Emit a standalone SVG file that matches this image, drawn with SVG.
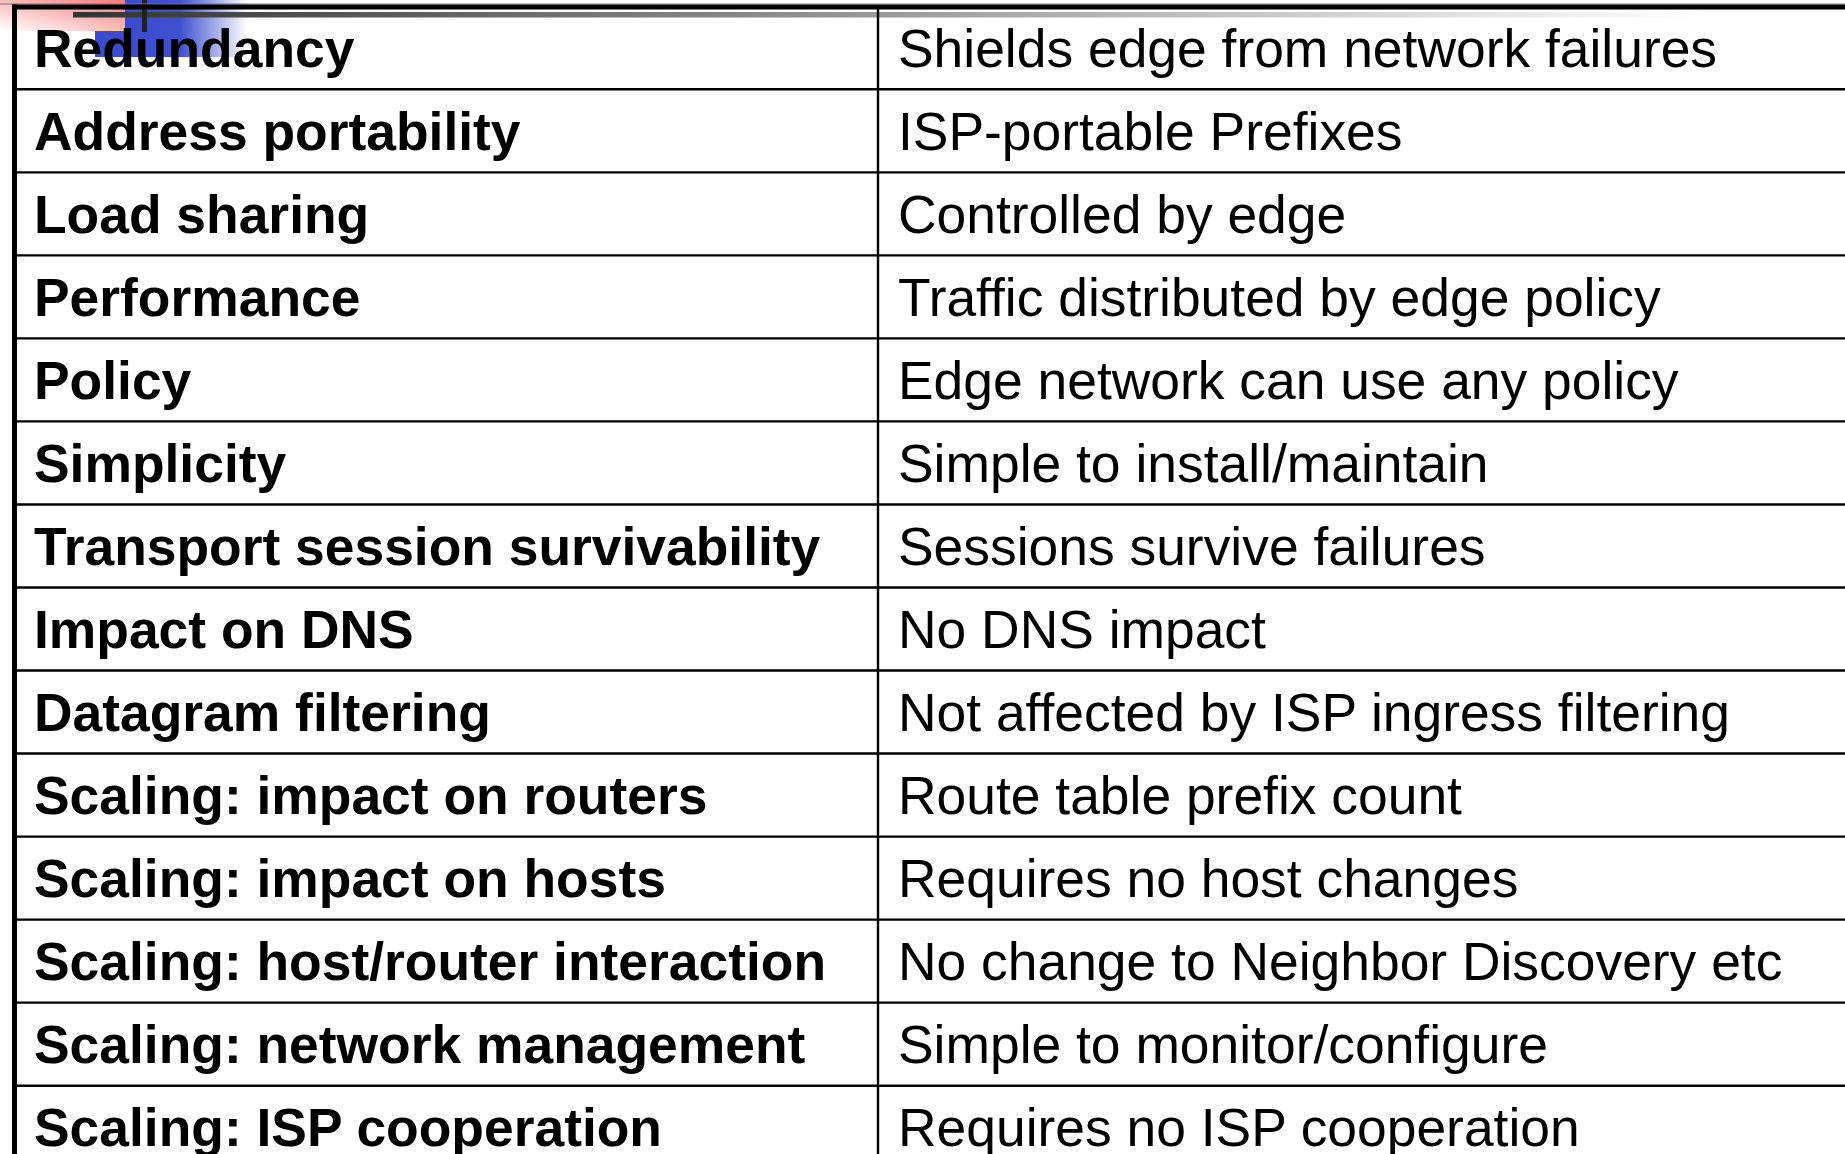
<svg xmlns="http://www.w3.org/2000/svg" width="1845" height="1154" viewBox="0 0 1845 1154">
  <style>
    .k { font-family: "Liberation Sans", Arial, sans-serif; font-size: 53.4px; font-weight: bold; fill: #000; }
    .v { font-family: "Liberation Sans", Arial, sans-serif; font-size: 53.4px; fill: #000; }
    .rule { stroke: #000; stroke-width: 2.4; }
  </style>
  <defs>
    <linearGradient id="pink" x1="1" y1="0" x2="0" y2="1">
      <stop offset="0" stop-color="#f77a7a"/>
      <stop offset="0.55" stop-color="#fbc4c4"/>
      <stop offset="1" stop-color="#ffffff"/>
    </linearGradient>
    <linearGradient id="blue" x1="0" y1="0" x2="1" y2="0">
      <stop offset="0" stop-color="#3c4ccf"/>
      <stop offset="0.45" stop-color="#3f50d0"/>
      <stop offset="1" stop-color="#ffffff"/>
    </linearGradient>
    <linearGradient id="bar" gradientUnits="userSpaceOnUse" x1="73" y1="0" x2="1700" y2="0">
      <stop offset="0" stop-color="#333"/>
      <stop offset="0.5" stop-color="#9a9a9a"/>
      <stop offset="1" stop-color="#ffffff"/>
    </linearGradient>
  </defs>

  <rect width="1845" height="1154" fill="#fff"/>

  <!-- corner ornament -->
  <g id="ornament">
    <rect x="0" y="0" width="125" height="31" fill="url(#pink)"/>
    <rect x="125" y="0" width="122" height="57" fill="url(#blue)"/>
    <rect x="95" y="31" width="30" height="26" fill="#3c4ccf"/>
    <rect x="73" y="12" width="1772" height="5.5" fill="url(#bar)"/>
    <rect x="142" y="0" width="5" height="32" fill="#222"/>
  </g>

  <!-- table grid -->
  <g id="grid">
    <line x1="0" y1="4" x2="1845" y2="4" stroke="#777" stroke-width="1"/>
    <rect x="12" y="4.5" width="1833" height="5" fill="#000"/>
    <rect x="12" y="4.5" width="5" height="1150" fill="#000"/>
    <line class="rule" x1="878" y1="9" x2="878" y2="1154"/>
    <line class="rule" x1="17" y1="89.3" x2="1845" y2="89.3"/>
    <line class="rule" x1="17" y1="172.4" x2="1845" y2="172.4"/>
    <line class="rule" x1="17" y1="255.4" x2="1845" y2="255.4"/>
    <line class="rule" x1="17" y1="338.4" x2="1845" y2="338.4"/>
    <line class="rule" x1="17" y1="421.4" x2="1845" y2="421.4"/>
    <line class="rule" x1="17" y1="504.5" x2="1845" y2="504.5"/>
    <line class="rule" x1="17" y1="587.5" x2="1845" y2="587.5"/>
    <line class="rule" x1="17" y1="670.5" x2="1845" y2="670.5"/>
    <line class="rule" x1="17" y1="753.5" x2="1845" y2="753.5"/>
    <line class="rule" x1="17" y1="836.6" x2="1845" y2="836.6"/>
    <line class="rule" x1="17" y1="919.6" x2="1845" y2="919.6"/>
    <line class="rule" x1="17" y1="1002.6" x2="1845" y2="1002.6"/>
    <line class="rule" x1="17" y1="1085.7" x2="1845" y2="1085.7"/>
  </g>

  <!-- criteria -->
  <g id="criteria">
    <text class="k" x="34" y="67">Redundancy</text>
    <text class="k" x="34" y="150">Address portability</text>
    <text class="k" x="34" y="233">Load sharing</text>
    <text class="k" x="34" y="316">Performance</text>
    <text class="k" x="34" y="399">Policy</text>
    <text class="k" x="34" y="482">Simplicity</text>
    <text class="k" x="34" y="565">Transport session survivability</text>
    <text class="k" x="34" y="648">Impact on DNS</text>
    <text class="k" x="34" y="731">Datagram filtering</text>
    <text class="k" x="34" y="814">Scaling: impact on routers</text>
    <text class="k" x="34" y="897">Scaling: impact on hosts</text>
    <text class="k" x="34" y="980">Scaling: host/router interaction</text>
    <text class="k" x="34" y="1063">Scaling: network management</text>
    <text class="k" x="34" y="1146">Scaling: ISP cooperation</text>
  </g>

  <!-- assessments -->
  <g id="assessments">
    <text class="v" x="898" y="67">Shields edge from network failures</text>
    <text class="v" x="898" y="150">ISP-portable Prefixes</text>
    <text class="v" x="898" y="233">Controlled by edge</text>
    <text class="v" x="898" y="316">Traffic distributed by edge policy</text>
    <text class="v" x="898" y="399">Edge network can use any policy</text>
    <text class="v" x="898" y="482">Simple to install/maintain</text>
    <text class="v" x="898" y="565">Sessions survive failures</text>
    <text class="v" x="898" y="648">No DNS impact</text>
    <text class="v" x="898" y="731">Not affected by ISP ingress filtering</text>
    <text class="v" x="898" y="814">Route table prefix count</text>
    <text class="v" x="898" y="897">Requires no host changes</text>
    <text class="v" x="898" y="980">No change to Neighbor Discovery etc</text>
    <text class="v" x="898" y="1063">Simple to monitor/configure</text>
    <text class="v" x="898" y="1146">Requires no ISP cooperation</text>
  </g>
</svg>
